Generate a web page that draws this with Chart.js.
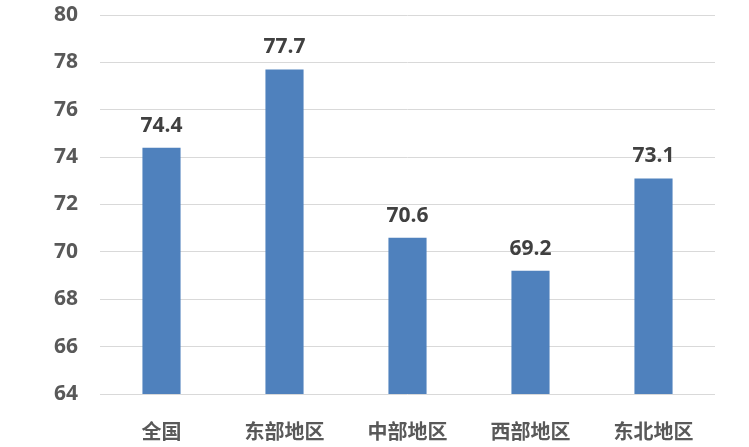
<!DOCTYPE html>
<html><head><meta charset="utf-8">
<script src="https://cdn.jsdelivr.net/npm/chart.js@4"></script>
<style>html,body{margin:0;padding:0;background:#fff}#wrap{width:749px;height:447px}</style>
</head><body><div id="wrap"><canvas id="c"></canvas></div>
<script>
const categories = ["全国","东部地区","中部地区","西部地区","东北地区"];
const values = [74.4, 77.7, 70.6, 69.2, 73.1];
const yMin = 64, yMax = 80, yStep = 2;

const FONT = '"Open Sans","Noto Sans CJK SC",sans-serif';
const labelPlugin = {
  id: 'vals',
  afterDatasetsDraw(chart){
    const ctx = chart.ctx;
    const meta = chart.getDatasetMeta(0);
    ctx.save();
    ctx.font = 'bold 21px ' + FONT;
    ctx.fillStyle = '#404040';
    ctx.textAlign = 'center';
    ctx.textBaseline = 'middle';
    meta.data.forEach((el,i)=>{
      ctx.fillText(values[i].toFixed(1), el.x, el.y - 22);
    });
    ctx.restore();
  }
};
new Chart(document.getElementById('c'), {
  type: 'bar',
  data: { labels: categories, datasets: [{ data: values, backgroundColor: '#4f81bd', barPercentage: 0.31, categoryPercentage: 1 }] },
  options: {
    responsive: true, maintainAspectRatio: false, animation: false,
    layout: { padding: { top: 15, right: 34, left: 0, bottom: 0 } },
    plugins: { legend: { display: false }, tooltip: { enabled: false } },
    scales: {
      x: {
        grid: { display: false }, border: { display: false },
        ticks: { color: '#595959', font: { family: FONT, size: 20, weight: 'bold' }, padding: 19, maxRotation: 0 },
        afterFit(s){ s.height = 53; s.paddingLeft = 0; s.paddingRight = 0; }
      },
      y: {
        min: yMin, max: yMax,
        grid: { color: '#d9d9d9', lineWidth: 1, drawTicks: false }, border: { display: false },
        ticks: { stepSize: yStep, color: '#595959', font: { family: FONT, size: 21, weight: 'bold' }, padding: 22 },
        afterFit(s){ s.width = 100; s.paddingTop = 0; s.paddingBottom = 0; }
      }
    }
  },
  plugins: [labelPlugin]
});
</script></body></html>
